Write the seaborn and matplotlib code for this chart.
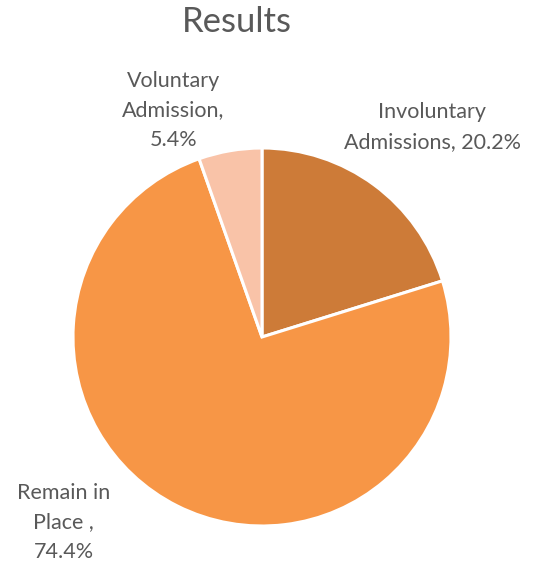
import matplotlib
matplotlib.use("Agg")
import matplotlib.pyplot as plt
import seaborn as sns

# data
categories = ["Involuntary\nAdmissions", "Remain in\nPlace ", "Voluntary\nAdmission"]
shares = [20.2, 74.4, 5.4]
colors = ["#CD7B38", "#F79646", "#F9C3A8"]
# label anchors (pie units) for each slice
label_pos = [(0.90, 1.11), (-1.05, -0.98), (-0.47, 1.20)]
label_fmt = ["{}, {:.1f}%", "{},\n{:.1f}%", "{},\n{:.1f}%"]

sns.set_style("white")
plt.rcParams["font.family"] = ["Lato", "DejaVu Sans"]

fig = plt.figure(figsize=(5.37, 5.62), dpi=100)
W, H = 537, 562
cx, cy, r = 262, 337, 189
ax = fig.add_axes([(cx - r) / W, (H - cy - r) / H, 2 * r / W, 2 * r / H])

ax.pie(shares, colors=colors, startangle=90, counterclock=False,
       wedgeprops=dict(edgecolor="white", linewidth=2.2))
ax.set_xlim(-1, 1)
ax.set_ylim(-1, 1)
ax.set_aspect("auto")
ax.axis("off")

for name, val, (x, y), fmt in zip(categories, shares, label_pos, label_fmt):
    ax.text(x, y, fmt.format(name, val), ha="center", va="center",
            fontsize=15.5, color="#595959", linespacing=1.6, clip_on=False)

fig.text(237 / W, 1 - 22 / H, "Results", ha="center", va="center",
         fontsize=25, color="#595959")

fig.savefig("out.png", dpi=100, facecolor="white")
